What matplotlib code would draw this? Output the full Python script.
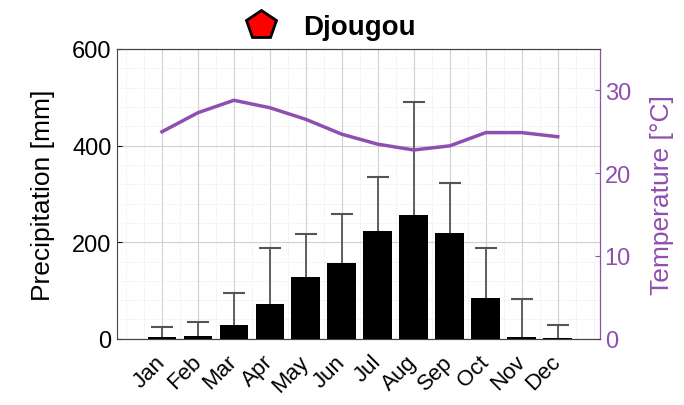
import numpy as np
import matplotlib
matplotlib.use("Agg")
import matplotlib.pyplot as plt
import matplotlib.transforms as mtransforms
from matplotlib.ticker import MultipleLocator

plt.rcParams['font.family'] = ['Liberation Sans', 'DejaVu Sans']

# monthly climate data for Djougou
months = ['Jan', 'Feb', 'Mar', 'Apr', 'May', 'Jun', 'Jul', 'Aug', 'Sep', 'Oct', 'Nov', 'Dec']
precip = [3, 5, 28, 73, 128, 156, 223, 256, 220, 85, 3, 2]
precip_std = [21, 30, 66, 115, 88, 103, 112, 234, 103, 103, 79, 27]
temp = [25.0, 27.3, 28.8, 27.9, 26.5, 24.7, 23.5, 22.8, 23.3, 24.9, 24.9, 24.4]

purple = '#8f4fae'
x = np.arange(1, 13)

fig = plt.figure(figsize=(6.84, 4.06), dpi=100)
ax = fig.add_axes([0.171, 0.163, 0.706, 0.714])

# error bars, clipped at zero below
lower = np.minimum(precip, precip_std)
ax.errorbar(x, precip, yerr=[lower, precip_std], fmt='none', ecolor='#555555',
            elinewidth=1.3, capsize=8, capthick=1.5, zorder=2)
ax.bar(x, precip, width=0.8, color='black', zorder=3)

ax.set_xlim(-0.25, 13.17)
ax.set_ylim(0, 600)
ax.set_xticks(x)
ax.set_xticklabels(months, rotation=45, fontsize=16, ha='right', va='center',
                   rotation_mode='anchor')
shift = mtransforms.ScaledTranslation(12 / 100, 0, fig.dpi_scale_trans)
for lab in ax.get_xticklabels():
    lab.set_transform(lab.get_transform() + shift)
ax.yaxis.set_major_locator(MultipleLocator(200))
ax.yaxis.set_minor_locator(MultipleLocator(40))
ax.xaxis.set_minor_locator(MultipleLocator(0.5))
ax.tick_params(axis='y', labelsize=17, direction='in', pad=4)
ax.tick_params(axis='x', direction='in', length=0, pad=14)
ax.tick_params(which='minor', length=0)
ax.set_ylabel('Precipitation [mm]', fontsize=19, labelpad=12)
ax.grid(which='major', color='#d0d0d0', linewidth=0.8, zorder=0)
ax.grid(which='minor', color='#e2e2e2', linewidth=0.6, linestyle=':', zorder=0)
ax.set_axisbelow(True)
for s in ax.spines.values():
    s.set_color('#444444')

ax2 = ax.twinx()
ax2.plot(x, temp, color=purple, linewidth=2.5, zorder=4)
ax2.set_ylim(0, 35)
ax2.set_yticks([0, 10, 20, 30])
ax2.tick_params(axis='y', colors=purple, labelsize=17, direction='in')
ax2.set_ylabel('Temperature [°C]', fontsize=19, color=purple, labelpad=14)
ax2.spines['right'].set_color(purple)
ax2.spines['left'].set_visible(False)
ax2.spines['top'].set_color('#444444')
ax2.spines['bottom'].set_color('#444444')

# title with red pentagon marker
fig.text(0.525, 0.93, 'Djougou', fontsize=20, fontweight='bold', ha='center', va='center')
fig.lines.append(plt.Line2D([0.381], [0.935], marker='p', markersize=22, color='red',
                            markeredgecolor='black', markeredgewidth=2,
                            transform=fig.transFigure, figure=fig))

fig.savefig('out.png', dpi=100)
